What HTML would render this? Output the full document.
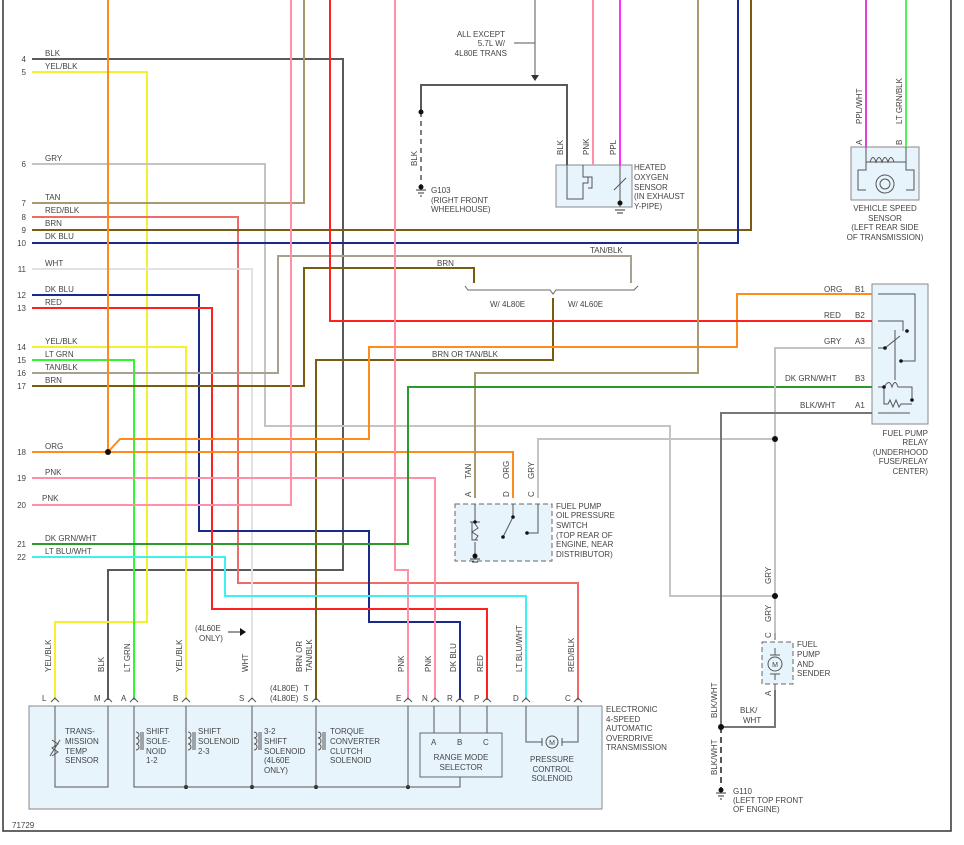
<!DOCTYPE html>
<html><head><meta charset="utf-8"><style>
html,body{margin:0;padding:0;background:#fff}
svg{display:block}
text{font-family:"Liberation Sans",sans-serif;font-size:8px;fill:#444}
.w{fill:none;stroke-width:2}
.t{fill:none;stroke:#555;stroke-width:1}
</style></head><body>
<svg width="964" height="845" viewBox="0 0 964 845" xmlns="http://www.w3.org/2000/svg">
<rect x="0" y="0" width="964" height="845" fill="#fff"/>
<!-- border -->
<path d="M3 0 V831 H951 V0" fill="none" stroke="#333" stroke-width="1.5"/>

<!-- component boxes -->
<rect x="29" y="706" width="573" height="103" fill="#e8f4fc" stroke="#888" stroke-width="1"/>
<rect x="556" y="165" width="76" height="42" fill="#e8f4fc" stroke="#888"/>
<rect x="851" y="147" width="68" height="53" fill="#e8f4fc" stroke="#888"/>
<rect x="872" y="284" width="56" height="140" fill="#e8f4fc" stroke="#888"/>
<rect x="455" y="504" width="97" height="57" fill="#e8f4fc" stroke="#666" stroke-dasharray="5,3"/>
<rect x="762" y="642" width="31" height="42" fill="#e8f4fc" stroke="#666" stroke-dasharray="5,3"/>

<!-- wires -->
<g class="w">
<!-- 4 BLK -->
<path d="M32 59 H343 V570 H108 V700" stroke="#5a5a5a"/>
<!-- 5 YEL/BLK -->
<path d="M32 72 H147 V622 H55 V700" stroke="#f4f030"/>
<!-- 6 GRY -->
<path d="M32 164 H265 V426 H670 V596 H775" stroke="#c4c4c4"/>
<!-- 7 TAN -->
<path d="M32 203 H304 V0" stroke="#a89a70"/>
<!-- 8 RED/BLK -->
<path d="M32 217 H238 V583 H578 V700" stroke="#f06a6a"/>
<!-- 9 BRN -->
<path d="M32 230 H751 V0" stroke="#7a5c10"/>
<!-- 10 DK BLU -->
<path d="M32 243 H738 V0" stroke="#1a2a8a"/>
<!-- 11 WHT -->
<path d="M32 269 H252 V700" stroke="#e2e2e2"/>
<!-- 12 DK BLU -->
<path d="M32 295 H199 V531 H369 V622 H460 V700" stroke="#1a2a8a"/>
<!-- 13 RED -->
<path d="M32 308 H212 V609 H487 V700" stroke="#ff2020"/>
<!-- 14 YEL/BLK -->
<path d="M32 347 H186 V700" stroke="#f4f030"/>
<!-- 15 LT GRN -->
<path d="M32 360 H134 V700" stroke="#33f533"/>
<!-- 16 TAN/BLK -->
<path d="M32 373 H278 V256 H631 V283" stroke="#a8a090"/>
<!-- 17 BRN -->
<path d="M32 386 H304 V268 H474 V283" stroke="#7a5c10"/>
<!-- BRN OR TAN/BLK -->
<path d="M553 298 V360 H316 V700" stroke="#7a5c10"/>
<!-- top ORG -->
<path d="M108 0 V452" stroke="#ff8c1a"/>
<!-- 18 ORG -->
<path d="M32 452 H513 V498" stroke="#ff8c1a"/>
<path d="M108 452 L120 439 H369 V347 H737 V294 H872" stroke="#ff8c1a"/>
<!-- top PNK / 20 -->
<path d="M291 0 V505 H32" stroke="#ff90a8"/>
<!-- top RED -->
<path d="M330 0 V321 H872" stroke="#ff2020"/>
<!-- top PNK to E -->
<path d="M395 0 V570 H408 V700" stroke="#ff90a8"/>
<!-- 19 PNK -->
<path d="M32 478 H435 V700" stroke="#ff90a8"/>
<!-- top TAN to switch A -->
<path d="M698 0 V373 H475 V498" stroke="#a89a70"/>
<!-- 21 DK GRN/WHT -->
<path d="M32 544 H408 V387 H872" stroke="#2a9a2a"/>
<!-- 22 LT BLU/WHT -->
<path d="M32 557 H225 V596 H526 V700" stroke="#40f0f0"/>
<!-- GRY to switch C -->
<path d="M538 498 V439 H775" stroke="#c4c4c4"/>
<path d="M872 348 H775 V633" stroke="#c4c4c4"/>
<!-- BLK/WHT -->
<path d="M872 413 H721 V727" stroke="#777"/>
<path d="M721 727 V790" stroke="#555" stroke-dasharray="6,4"/>
<path d="M721 727 H775 V690" stroke="#777"/>
<!-- O2 -->
<path d="M593 0 V165" stroke="#ff90a8"/>
<path d="M620 0 V165" stroke="#ff30ff"/>
<!-- VSS -->
<path d="M866 0 V147" stroke="#e040e0"/>
<path d="M906 0 V147" stroke="#55ee55"/>
</g>
<!-- G103 -->
<path d="M535 0 V76" stroke="#555" stroke-width="1"/>
<path d="M531 75 L535 81 L539 75Z" fill="#333"/>
<path d="M514 43 H535" stroke="#555" stroke-width="1"/>
<path d="M421 112 V85 H567 V165" fill="none" stroke="#5a5a5a" stroke-width="2"/>
<path d="M421 112 V187" stroke="#555" stroke-width="1.5" stroke-dasharray="5,4"/>
<circle cx="421" cy="112" r="2.5" fill="#111"/>
<circle cx="421" cy="187" r="2.5" fill="#111"/>
<path d="M416 190 H426 M418 193 H424 M420 196 H422" stroke="#333"/>
<path d="M721 795 H0" stroke="none"/>
<circle cx="721" cy="790" r="2.5" fill="#111"/>
<path d="M716 793 H726 M718 796 H724 M720 799 H722" stroke="#333"/>

<!-- dots -->
<g fill="#111">
<circle cx="108" cy="452" r="3"/>
<circle cx="775" cy="439" r="3"/>
<circle cx="775" cy="596" r="3"/>
<circle cx="721" cy="727" r="3"/>
<circle cx="186" cy="787" r="2"/><circle cx="252" cy="787" r="2"/><circle cx="316" cy="787" r="2"/><circle cx="408" cy="787" r="2"/>
</g>

<!-- bracket -->
<path d="M465 286 L468 290 H550 L553 294 L556 290 H634 L638 286" fill="none" stroke="#666" stroke-width="1"/>

<!-- pin carets at transmission -->
<g fill="none" stroke="#555" stroke-width="1">
<path d="M51 702 L55 698 L59 702 M104 702 L108 698 L112 702 M130 702 L134 698 L138 702 M182 702 L186 698 L190 702 M248 702 L252 698 L256 702 M312 702 L316 698 L320 702 M404 702 L408 698 L412 702 M431 702 L435 698 L439 702 M456 702 L460 698 L464 702 M483 702 L487 698 L491 702 M522 702 L526 698 L530 702 M574 702 L578 698 L582 702"/>
<!-- internal -->
<path d="M55 706 V787 H108 V706"/>
<path d="M52 740 L58 744 L52 748 L58 752 L52 756 M50 756 L60 740"/>
<path d="M134 706 V787 H460 V777 M186 706 V787 M252 706 V787 M316 706 V787 M408 706 V787"/>
<path d="M434 706 V733 M460 706 V733 M487 706 V733"/>
<rect x="420" y="733" width="82" height="44" stroke="#666"/>
<path d="M526 706 V742 H542 M562 742 H578 V706"/>
<circle cx="552" cy="742" r="6"/>
<path d="M542 738 V746 M562 738 V746"/>
<path d="M136 732 a3 3 0 0 1 0 6 a3 3 0 0 1 0 6 a3 3 0 0 1 0 6 M141 732 V750 M143 732 V750"/>
<path d="M188 732 a3 3 0 0 1 0 6 a3 3 0 0 1 0 6 a3 3 0 0 1 0 6 M193 732 V750 M195 732 V750"/>
<path d="M254 732 a3 3 0 0 1 0 6 a3 3 0 0 1 0 6 a3 3 0 0 1 0 6 M259 732 V750 M261 732 V750"/>
<path d="M318 732 a3 3 0 0 1 0 6 a3 3 0 0 1 0 6 a3 3 0 0 1 0 6 M323 732 V750 M325 732 V750"/>
<!-- O2 internals -->
<path d="M567 165 V199 H583 V183 H588 V177 H583 V165 M588 177 H592 V188 H588 M620 165 V207 M614 190 L626 178"/>
<!-- VSS internals -->
<path d="M866 147 V170 H858 V190 H866 M906 147 V170 H914 V190 H906 M866 162 H906 M870 162 c2 -6 4 -6 6 0 c2 -6 4 -6 6 0 c2 -6 4 -6 6 0 c2 -6 4 -6 6 0"/>
<circle cx="885" cy="184" r="9"/><circle cx="885" cy="184" r="5"/>
<!-- relay internals -->
<path d="M878 294 H915 V361 H901 M878 321 H903 V331 M878 348 H885 L900 336 M895 330 V380 M878 387 H884 C888 381 890 381 892 387 C894 381 896 381 898 387 H912 V400 M884 387 V404 H888 L890 400 L893 407 L896 400 L899 407 L901 404 H912 M878 413 H910"/>
<!-- switch internals -->
<path d="M475 504 V522 M475 542 V556 M470 522 H480 M472 522 V540 H478 M475 524 L478 528 L472 532 L478 536 L475 540 M513 504 V517 L503 537 M538 504 V533 H527"/>
<!-- fuel pump -->
<path d="M775 633 V640 M775 684 V690 M775 648 V655 M775 674 V680 M770 655 H780 M770 674 H780"/>
<circle cx="775" cy="664" r="7"/>
</g>
<g fill="#111">
<circle cx="475" cy="522" r="1.8"/><circle cx="475" cy="556" r="2.5"/><circle cx="513" cy="517" r="1.8"/><circle cx="503" cy="537" r="1.8"/><circle cx="527" cy="533" r="1.8"/>
<circle cx="620" cy="203" r="2.5"/>
<circle cx="885" cy="348" r="1.8"/><circle cx="907" cy="331" r="1.8"/><circle cx="901" cy="361" r="1.8"/><circle cx="884" cy="387" r="1.8"/><circle cx="912" cy="400" r="1.8"/>
</g>
<path d="M470 559 H480 M472 562 H478 M615 210 H625 M617 213 H623" stroke="#333"/>

<!-- wire number labels -->
<g text-anchor="end">
<text x="26" y="62">4</text><text x="26" y="75">5</text><text x="26" y="167">6</text><text x="26" y="206">7</text><text x="26" y="220">8</text><text x="26" y="233">9</text><text x="26" y="246">10</text><text x="26" y="272">11</text><text x="26" y="298">12</text><text x="26" y="311">13</text><text x="26" y="350">14</text><text x="26" y="363">15</text><text x="26" y="376">16</text><text x="26" y="389">17</text><text x="26" y="455">18</text><text x="26" y="481">19</text><text x="26" y="508">20</text><text x="26" y="547">21</text><text x="26" y="560">22</text>
</g>
<text x="45" y="56">BLK</text><text x="45" y="69">YEL/BLK</text><text x="45" y="161">GRY</text><text x="45" y="200">TAN</text><text x="45" y="213">RED/BLK</text><text x="45" y="226">BRN</text><text x="45" y="239">DK BLU</text><text x="45" y="266">WHT</text><text x="45" y="292">DK BLU</text><text x="45" y="305">RED</text><text x="45" y="344">YEL/BLK</text><text x="45" y="357">LT GRN</text><text x="45" y="370">TAN/BLK</text><text x="45" y="383">BRN</text><text x="45" y="449">ORG</text><text x="45" y="475">PNK</text><text x="42" y="501">PNK</text><text x="45" y="541">DK GRN/WHT</text><text x="45" y="554">LT BLU/WHT</text>

<text x="437" y="266">BRN</text><text x="590" y="253">TAN/BLK</text>
<text x="490" y="307">W/ 4L80E</text><text x="568" y="307">W/ 4L60E</text>
<text x="432" y="357">BRN OR TAN/BLK</text>
<text x="824" y="292">ORG</text><text x="855" y="292">B1</text>
<text x="824" y="318">RED</text><text x="855" y="318">B2</text>
<text x="824" y="344">GRY</text><text x="855" y="344">A3</text>
<text x="785" y="381">DK GRN/WHT</text><text x="855" y="381">B3</text>
<text x="800" y="408">BLK/WHT</text><text x="855" y="408">A1</text>
<g text-anchor="end"><text x="928" y="436">FUEL PUMP</text><text x="928" y="445">RELAY</text><text x="928" y="455">(UNDERHOOD</text><text x="928" y="464">FUSE/RELAY</text><text x="928" y="474">CENTER)</text></g>
<g text-anchor="middle"><text x="885" y="211">VEHICLE SPEED</text><text x="885" y="221">SENSOR</text><text x="885" y="230">(LEFT REAR SIDE</text><text x="885" y="240">OF TRANSMISSION)</text></g>
<g text-anchor="end"><text x="505" y="37">ALL EXCEPT</text><text x="505" y="46">5.7L W/</text><text x="507" y="56">4L80E TRANS</text></g>
<text x="431" y="193">G103</text><text x="431" y="203">(RIGHT FRONT</text><text x="431" y="212">WHEELHOUSE)</text>
<text x="634" y="170">HEATED</text><text x="634" y="180">OXYGEN</text><text x="634" y="190">SENSOR</text><text x="634" y="199">(IN EXHAUST</text><text x="634" y="209">Y-PIPE)</text>
<text x="556" y="509">FUEL PUMP</text><text x="556" y="518">OIL PRESSURE</text><text x="556" y="528">SWITCH</text><text x="556" y="538">(TOP REAR OF</text><text x="556" y="547">ENGINE, NEAR</text><text x="556" y="557">DISTRIBUTOR)</text>
<text x="797" y="647">FUEL</text><text x="797" y="657">PUMP</text><text x="797" y="667">AND</text><text x="797" y="676">SENDER</text>
<text x="740" y="713">BLK/</text><text x="743" y="723">WHT</text>
<text x="733" y="794">G110</text><text x="733" y="803">(LEFT TOP FRONT</text><text x="733" y="812">OF ENGINE)</text>
<text x="606" y="712">ELECTRONIC</text><text x="606" y="722">4-SPEED</text><text x="606" y="731">AUTOMATIC</text><text x="606" y="741">OVERDRIVE</text><text x="606" y="750">TRANSMISSION</text>
<text x="12" y="828">71729</text>
<text x="195" y="631">(4L60E</text><text x="199" y="641">ONLY)</text>
<path d="M228 632 H240" stroke="#333"/><path d="M240 628 L246 632 L240 636Z" fill="#111"/>
<text x="270" y="691">(4L80E)</text><text x="270" y="701">(4L80E)</text><text x="304" y="691">T</text>
<g>
<text x="42" y="701">L</text><text x="94" y="701">M</text><text x="121" y="701">A</text><text x="173" y="701">B</text><text x="239" y="701">S</text><text x="303" y="701">S</text><text x="396" y="701">E</text><text x="422" y="701">N</text><text x="447" y="701">R</text><text x="474" y="701">P</text><text x="513" y="701">D</text><text x="565" y="701">C</text>
</g>
<text x="65" y="734">TRANS-</text><text x="65" y="744">MISSION</text><text x="65" y="754">TEMP</text><text x="65" y="763">SENSOR</text>
<text x="146" y="734">SHIFT</text><text x="146" y="744">SOLE-</text><text x="146" y="754">NOID</text><text x="146" y="763">1-2</text>
<text x="198" y="734">SHIFT</text><text x="198" y="744">SOLENOID</text><text x="198" y="754">2-3</text>
<text x="264" y="734">3-2</text><text x="264" y="744">SHIFT</text><text x="264" y="754">SOLENOID</text><text x="264" y="763">(4L60E</text><text x="264" y="773">ONLY)</text>
<text x="330" y="734">TORQUE</text><text x="330" y="744">CONVERTER</text><text x="330" y="754">CLUTCH</text><text x="330" y="763">SOLENOID</text>
<text x="431" y="745">A</text><text x="457" y="745">B</text><text x="483" y="745">C</text>
<text x="461" y="760" text-anchor="middle">RANGE MODE</text><text x="461" y="770" text-anchor="middle">SELECTOR</text>
<text x="552" y="762" text-anchor="middle">PRESSURE</text><text x="552" y="772" text-anchor="middle">CONTROL</text><text x="552" y="781" text-anchor="middle">SOLENOID</text>
<text x="552" y="745" text-anchor="middle" style="font-size:7px">M</text>
<text x="775" y="667" text-anchor="middle" style="font-size:7px">M</text>

<!-- vertical labels -->
<g>
<text transform="translate(51,672) rotate(-90)">YEL/BLK</text>
<text transform="translate(104,672) rotate(-90)">BLK</text>
<text transform="translate(130,672) rotate(-90)">LT GRN</text>
<text transform="translate(182,672) rotate(-90)">YEL/BLK</text>
<text transform="translate(248,672) rotate(-90)">WHT</text>
<text transform="translate(302,672) rotate(-90)">BRN OR</text>
<text transform="translate(312,672) rotate(-90)">TAN/BLK</text>
<text transform="translate(404,672) rotate(-90)">PNK</text>
<text transform="translate(431,672) rotate(-90)">PNK</text>
<text transform="translate(456,672) rotate(-90)">DK BLU</text>
<text transform="translate(483,672) rotate(-90)">RED</text>
<text transform="translate(522,672) rotate(-90)">LT BLU/WHT</text>
<text transform="translate(574,672) rotate(-90)">RED/BLK</text>
<text transform="translate(471,479) rotate(-90)">TAN</text>
<text transform="translate(509,479) rotate(-90)">ORG</text>
<text transform="translate(534,479) rotate(-90)">GRY</text>
<text transform="translate(471,497) rotate(-90)">A</text>
<text transform="translate(509,497) rotate(-90)">D</text>
<text transform="translate(534,497) rotate(-90)">C</text>
<text transform="translate(417,166) rotate(-90)">BLK</text>
<text transform="translate(563,155) rotate(-90)">BLK</text>
<text transform="translate(589,155) rotate(-90)">PNK</text>
<text transform="translate(616,155) rotate(-90)">PPL</text>
<text transform="translate(862,124) rotate(-90)">PPL/WHT</text>
<text transform="translate(902,124) rotate(-90)">LT GRN/BLK</text>
<text transform="translate(862,145) rotate(-90)">A</text>
<text transform="translate(902,145) rotate(-90)">B</text>
<text transform="translate(771,584) rotate(-90)">GRY</text>
<text transform="translate(771,622) rotate(-90)">GRY</text>
<text transform="translate(771,638) rotate(-90)">C</text>
<text transform="translate(771,696) rotate(-90)">A</text>
<text transform="translate(717,718) rotate(-90)">BLK/WHT</text>
<text transform="translate(717,775) rotate(-90)">BLK/WHT</text>
</g>
</svg>
</body></html>
